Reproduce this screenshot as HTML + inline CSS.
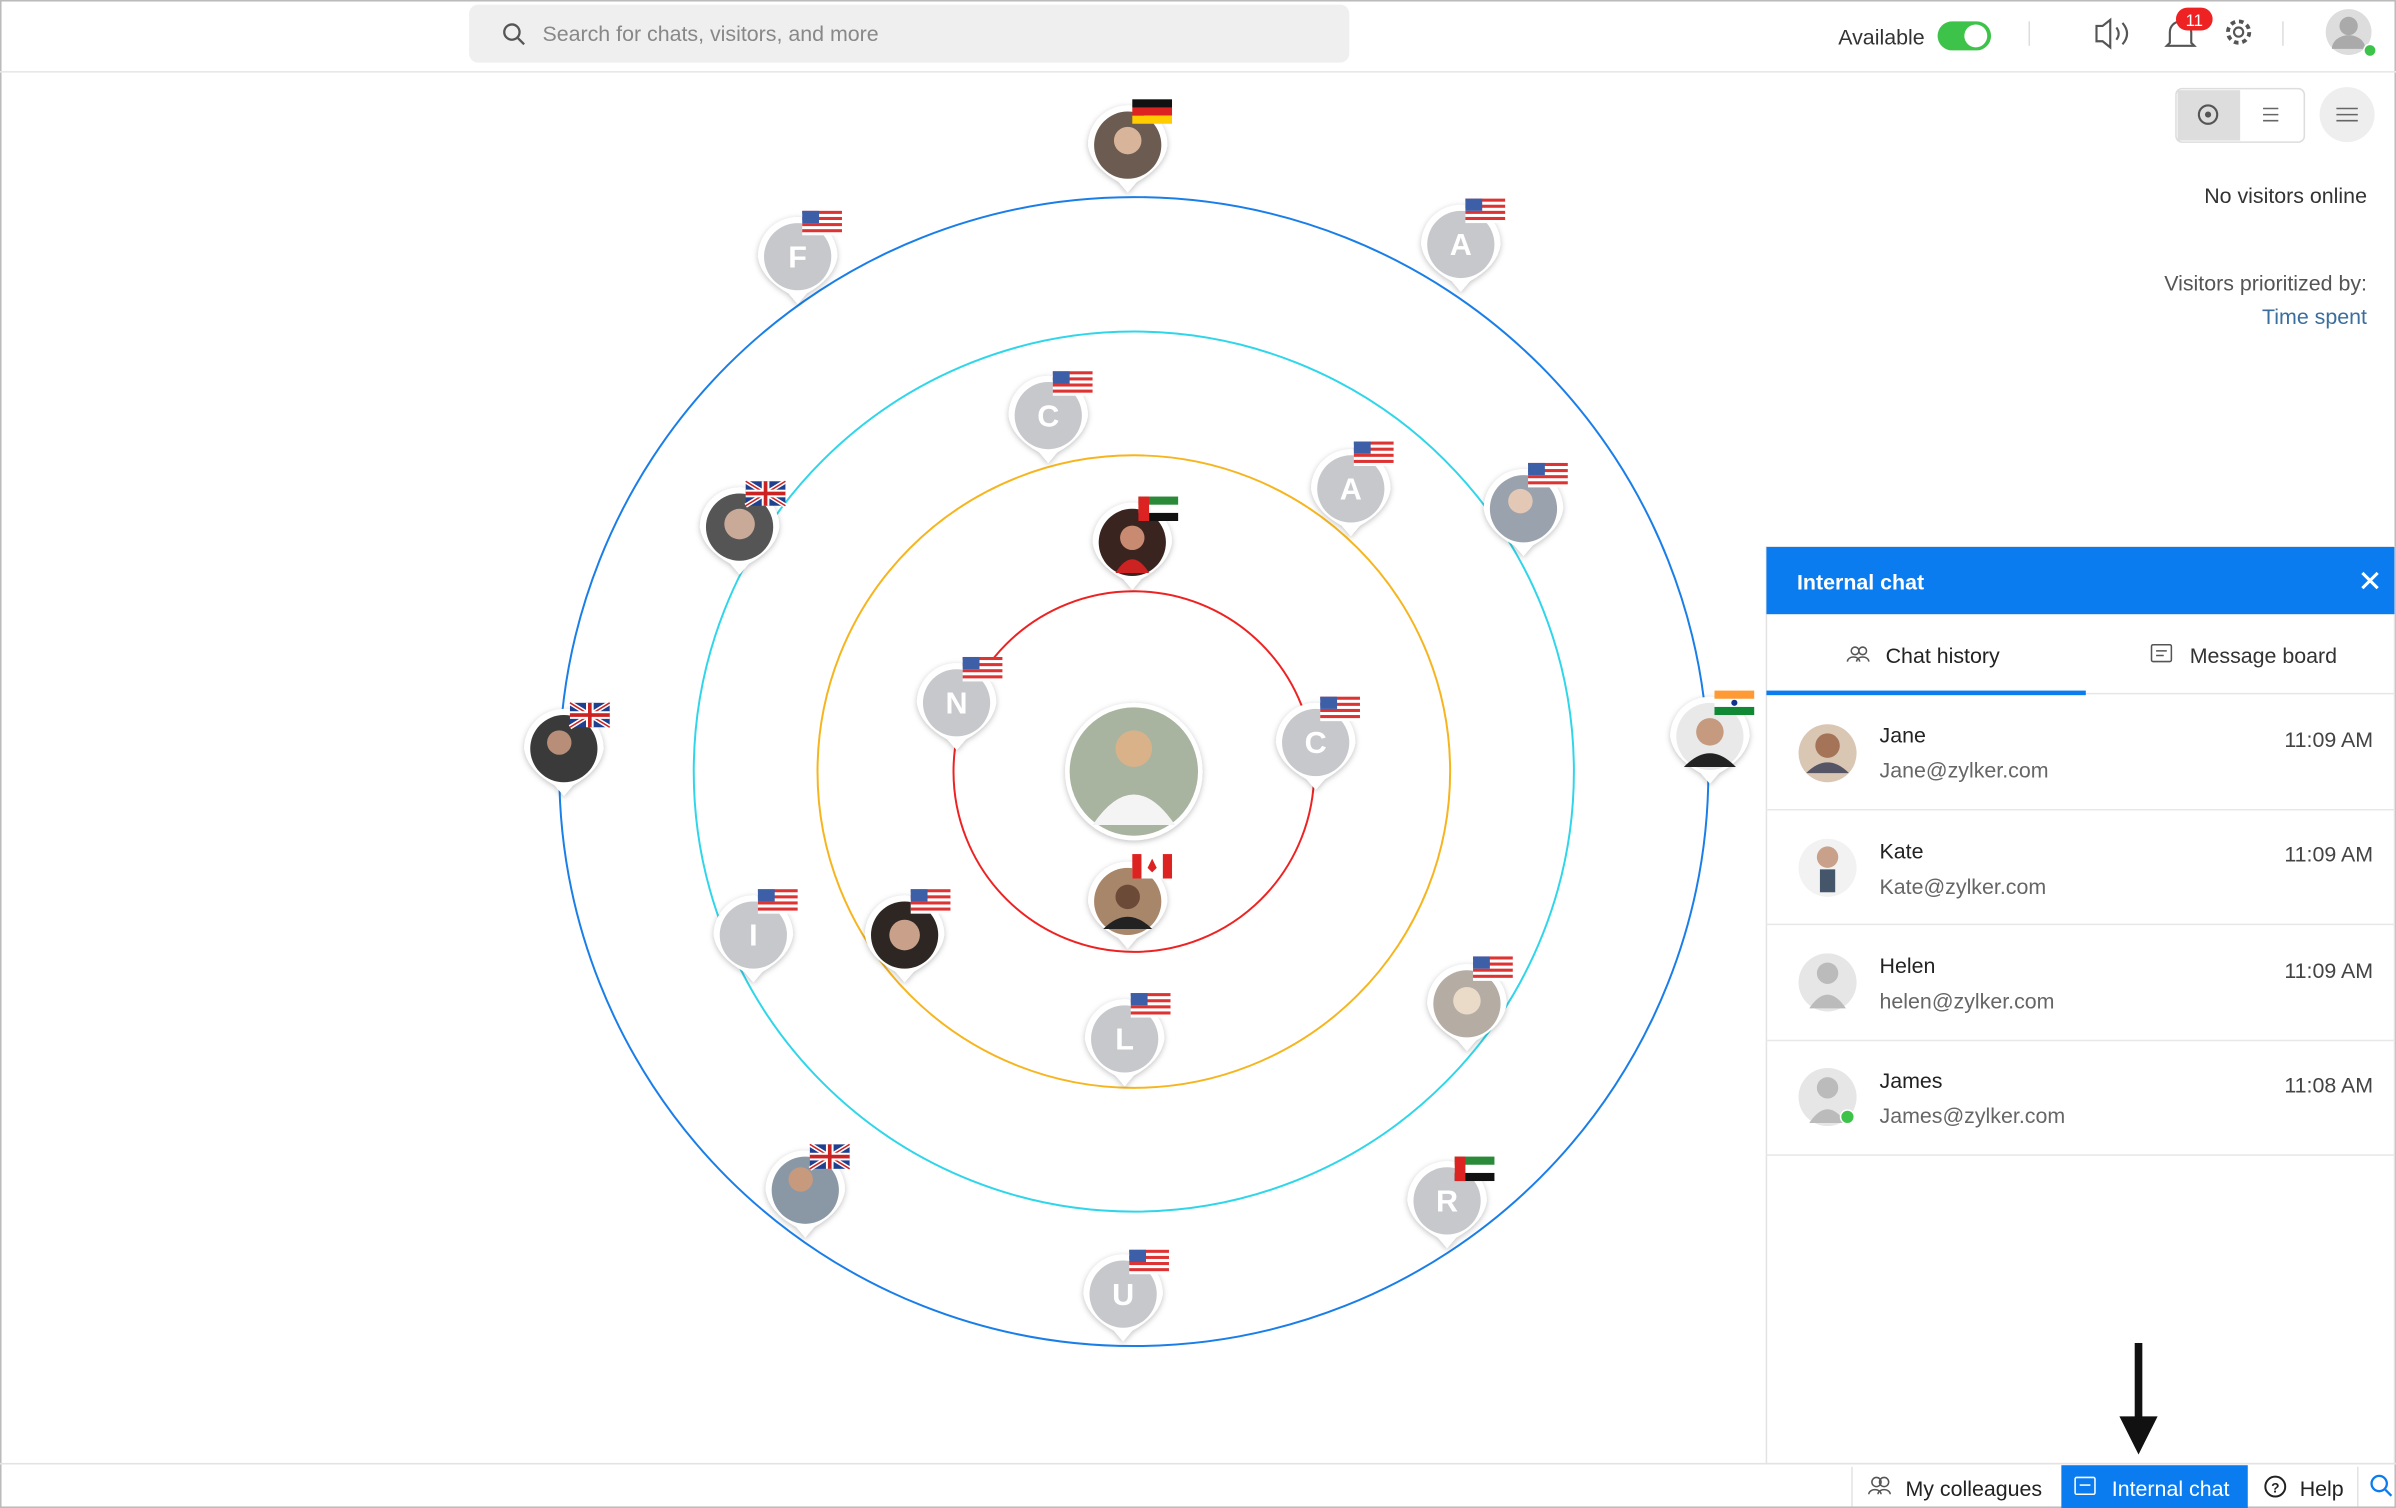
<!DOCTYPE html>
<html><head><meta charset="utf-8"><style>
html,body{margin:0;padding:0;background:#fff;}
svg{display:block;font-family:"Liberation Sans",sans-serif;}
</style></head><body>
<svg width="2396" height="1508" viewBox="0 0 1568 987" preserveAspectRatio="none" xmlns="http://www.w3.org/2000/svg">
<defs>
<filter id="sh" x="-50%" y="-50%" width="200%" height="200%"><feDropShadow dx="0" dy="1" stdDeviation="2" flood-color="#000" flood-opacity="0.25"/></filter>
<g id="mk"><path d="M-26,0 A26,26 0 1,1 26,0 Q24,14 6,24 L0,31 L-6,24 Q-24,14 -26,0Z" fill="#fff" filter="url(#sh)"/></g>
<g id="us"><rect x="-13" y="-8" width="26" height="16" fill="#fff"/><g fill="#d33"><rect x="-13" y="-8" width="26" height="2"/><rect x="-13" y="-4" width="26" height="2"/><rect x="-13" y="0" width="26" height="2"/><rect x="-13" y="4" width="26" height="2"/></g><rect x="-13" y="-8" width="11" height="8" fill="#3c5fa8"/></g>
<g id="uk"><rect x="-13" y="-8" width="26" height="16" fill="#1f3f8f"/><path d="M-13,-8 L13,8 M13,-8 L-13,8" stroke="#fff" stroke-width="3"/><path d="M-13,-8 L13,8 M13,-8 L-13,8" stroke="#c22" stroke-width="1"/><rect x="-13" y="-2.5" width="26" height="5" fill="#fff"/><rect x="-2.5" y="-8" width="5" height="16" fill="#fff"/><rect x="-13" y="-1.2" width="26" height="2.4" fill="#c22"/><rect x="-1.2" y="-8" width="2.4" height="16" fill="#c22"/></g>
<g id="de"><rect x="-13" y="-8" width="26" height="5.4" fill="#111"/><rect x="-13" y="-2.6" width="26" height="5.3" fill="#d22"/><rect x="-13" y="2.7" width="26" height="5.3" fill="#fc0"/></g>
<g id="ae"><rect x="-13" y="-8" width="26" height="5.4" fill="#2a8a3a"/><rect x="-13" y="-2.6" width="26" height="5.3" fill="#fff"/><rect x="-13" y="2.7" width="26" height="5.3" fill="#111"/><rect x="-13" y="-8" width="7" height="16" fill="#d22"/></g>
<g id="in"><rect x="-13" y="-8" width="26" height="5.4" fill="#f93"/><rect x="-13" y="-2.6" width="26" height="5.3" fill="#fff"/><rect x="-13" y="2.7" width="26" height="5.3" fill="#183"/><circle r="2" fill="#138"/></g>
<g id="ca"><rect x="-13" y="-8" width="26" height="16" fill="#fff"/><rect x="-13" y="-8" width="6" height="16" fill="#d22"/><rect x="7" y="-8" width="6" height="16" fill="#d22"/><path d="M0,-5 L3,1 L0,4 L-3,1Z" fill="#d22"/></g>
</defs>
<rect width="1568" height="987" fill="#fff"/>
<rect x="0.5" y="0.5" width="1567" height="986" fill="none" stroke="#bbb"/>
<!-- top bar -->
<line x1="0" y1="47" x2="1568" y2="47" stroke="#e8e8e8"/>
<rect x="307" y="3" width="576" height="38" rx="6" fill="#efefef"/>
<circle cx="335" cy="21" r="5" fill="none" stroke="#555" stroke-width="1.5"/><line x1="339" y1="25" x2="343" y2="29" stroke="#555" stroke-width="1.5"/>
<text x="355" y="27" font-size="14" fill="#888">Search for chats, visitors, and more</text>
<text x="1203" y="29" font-size="14" fill="#333">Available</text>
<rect x="1268" y="14" width="35" height="19" rx="9.5" fill="#3ec34a"/><circle cx="1293" cy="23.5" r="7.5" fill="#fff"/>
<line x1="1328" y1="14" x2="1328" y2="30" stroke="#ddd"/>
<path d="M1372,17 h4 l5,-4 v18 l-5,-4 h-4z" fill="none" stroke="#555" stroke-width="1.4"/>
<path d="M1385,18 q3,4 0,8 M1389,15 q6,7 0,14" fill="none" stroke="#555" stroke-width="1.4"/>
<path d="M1420,28 v-7 a7,7 0 0 1 14,0 v7 l2,2 h-18z" fill="none" stroke="#555" stroke-width="1.4"/>
<rect x="1424" y="5" width="24" height="15" rx="7.5" fill="#e22"/><text x="1436" y="17" font-size="11" fill="#fff" text-anchor="middle">11</text>
<circle cx="1465" cy="21" r="7" fill="none" stroke="#555" stroke-width="2.5" stroke-dasharray="3 2.5"/><circle cx="1465" cy="21" r="3" fill="none" stroke="#555" stroke-width="1.4"/>
<line x1="1494" y1="14" x2="1494" y2="30" stroke="#ddd"/>
<circle cx="1537" cy="21" r="15" fill="#ddd"/><circle cx="1537" cy="17" r="6" fill="#aaa"/><path d="M1526,32 a11,9 0 0 1 22,0z" fill="#aaa"/><circle cx="1551" cy="33" r="4" fill="#3ec34a" stroke="#fff"/>
<!-- right controls -->
<rect x="1424" y="58" width="84" height="35" rx="4" fill="#fff" stroke="#ddd"/><rect x="1425" y="59" width="41" height="33" fill="#ddd"/>
<circle cx="1445" cy="75" r="6" fill="none" stroke="#555" stroke-width="1.4"/><circle cx="1445" cy="75" r="2" fill="#555"/>
<path d="M1481,71h10M1481,75h10M1481,79h10" stroke="#666"/>
<circle cx="1536" cy="75" r="18" fill="#eee"/><path d="M1529,71h14M1529,75h14M1529,79h14" stroke="#666"/>
<text x="1549" y="133" font-size="14" fill="#333" text-anchor="end">No visitors online</text>
<text x="1549" y="190" font-size="14" fill="#555" text-anchor="end">Visitors prioritized by:</text>
<text x="1549" y="212" font-size="14" fill="#3a6e9e" text-anchor="end">Time spent</text>
<!-- rings -->
<circle cx="742" cy="505" r="376" fill="none" stroke="#1a7ee8" stroke-width="1.3"/>
<circle cx="742" cy="505" r="288" fill="none" stroke="#2fd6ea" stroke-width="1.3"/>
<circle cx="742" cy="505" r="207" fill="none" stroke="#f6b51e" stroke-width="1.3"/>
<circle cx="742" cy="505" r="118" fill="none" stroke="#e22" stroke-width="1.3"/>
<!-- center -->
<circle cx="742" cy="505" r="45" fill="#fff" filter="url(#sh)"/>
<circle cx="742" cy="505" r="42" fill="#a8b4a0"/><circle cx="742" cy="490" r="12" fill="#d9b28a"/><path d="M715,540 q27,-40 54,0z" fill="#f4f4f4"/>
<!-- markers -->
<g>
<use href="#mk" x="738" y="95"/><circle cx="738" cy="95" r="22" fill="#6b5b50"/><circle cx="738" cy="92" r="9" fill="#d8b49a"/><use href="#de" x="754" y="73"/>
<use href="#mk" x="522" y="168"/><circle cx="522" cy="168" r="22" fill="#c6c8cc"/><text x="522" y="175" font-size="20" fill="#fff" text-anchor="middle" font-weight="bold">F</text><use href="#us" x="538" y="146"/>
<use href="#mk" x="956" y="160"/><circle cx="956" cy="160" r="22" fill="#c6c8cc"/><text x="956" y="167" font-size="20" fill="#fff" text-anchor="middle" font-weight="bold">A</text><use href="#us" x="972" y="138"/>
<use href="#mk" x="686" y="272"/><circle cx="686" cy="272" r="22" fill="#c6c8cc"/><text x="686" y="279" font-size="20" fill="#fff" text-anchor="middle" font-weight="bold">C</text><use href="#us" x="702" y="251"/>
<use href="#mk" x="484" y="345"/><circle cx="484" cy="345" r="22" fill="#555"/><circle cx="484" cy="343" r="10" fill="#c9aa98"/><use href="#uk" x="501" y="323"/>
<use href="#mk" x="884" y="320"/><circle cx="884" cy="320" r="22" fill="#c6c8cc"/><text x="884" y="327" font-size="20" fill="#fff" text-anchor="middle" font-weight="bold">A</text><use href="#us" x="899" y="297"/>
<use href="#mk" x="997" y="333"/><circle cx="997" cy="333" r="22" fill="#9aa3ad"/><circle cx="995" cy="328" r="8" fill="#e3c8b6"/><use href="#us" x="1013" y="311"/>
<use href="#mk" x="741" y="355"/><circle cx="741" cy="355" r="22" fill="#3a2420"/><circle cx="741" cy="352" r="8" fill="#c88a70"/><path d="M730,375 q11,-18 22,0z" fill="#c22"/><use href="#ae" x="758" y="333"/>
<use href="#mk" x="626" y="460"/><circle cx="626" cy="460" r="22" fill="#c6c8cc"/><text x="626" y="467" font-size="20" fill="#fff" text-anchor="middle" font-weight="bold">N</text><use href="#us" x="643" y="438"/>
<use href="#mk" x="861" y="486"/><circle cx="861" cy="486" r="22" fill="#c6c8cc"/><text x="861" y="493" font-size="20" fill="#fff" text-anchor="middle" font-weight="bold">C</text><use href="#us" x="877" y="464"/>
<use href="#mk" x="369" y="490"/><circle cx="369" cy="490" r="22" fill="#3a3a3a"/><circle cx="366" cy="486" r="8" fill="#b88e78"/><use href="#uk" x="386" y="468"/>
<use href="#mk" x="1119" y="482"/><circle cx="1119" cy="482" r="22" fill="#e9e9e9"/><circle cx="1119" cy="479" r="9" fill="#c59a7e"/><path d="M1102,502 q17,-18 34,0z" fill="#222"/><use href="#in" x="1135" y="460"/>
<use href="#mk" x="738" y="590"/><circle cx="738" cy="590" r="22" fill="#a8866a"/><circle cx="738" cy="587" r="8" fill="#6b4a38"/><path d="M722,608 q16,-16 32,0z" fill="#222"/><use href="#ca" x="754" y="567"/>
<use href="#mk" x="493" y="612"/><circle cx="493" cy="612" r="22" fill="#c6c8cc"/><text x="493" y="619" font-size="20" fill="#fff" text-anchor="middle" font-weight="bold">I</text><use href="#us" x="509" y="590"/>
<use href="#mk" x="592" y="612"/><circle cx="592" cy="612" r="22" fill="#2e2622"/><circle cx="592" cy="612" r="10" fill="#c9a08a"/><use href="#us" x="609" y="590"/>
<use href="#mk" x="736" y="680"/><circle cx="736" cy="680" r="22" fill="#c6c8cc"/><text x="736" y="687" font-size="20" fill="#fff" text-anchor="middle" font-weight="bold">L</text><use href="#us" x="753" y="658"/>
<use href="#mk" x="960" y="657"/><circle cx="960" cy="657" r="22" fill="#b5aca4"/><circle cx="960" cy="655" r="9" fill="#eadbc8"/><use href="#us" x="977" y="634"/>
<use href="#mk" x="527" y="779"/><circle cx="527" cy="779" r="22" fill="#8a98a6"/><circle cx="524" cy="772" r="8" fill="#c79a7e"/><use href="#uk" x="543" y="757"/>
<use href="#mk" x="947" y="786"/><circle cx="947" cy="786" r="22" fill="#c6c8cc"/><text x="947" y="793" font-size="20" fill="#fff" text-anchor="middle" font-weight="bold">R</text><use href="#ae" x="965" y="765"/>
<use href="#mk" x="735" y="847"/><circle cx="735" cy="847" r="22" fill="#c6c8cc"/><text x="735" y="854" font-size="20" fill="#fff" text-anchor="middle" font-weight="bold">U</text><use href="#us" x="752" y="826"/>
</g>
<!-- internal chat panel -->
<rect x="1156" y="358" width="411" height="600" fill="#fff" stroke="#e3e3e3"/>
<rect x="1156" y="358" width="411" height="44" fill="#0a7cf0"/>
<text x="1176" y="386" font-size="14" fill="#fff" font-weight="bold">Internal chat</text>
<path d="M1546,375 l10,10 M1556,375 l-10,10" stroke="#fff" stroke-width="2"/>
<line x1="1156" y1="454" x2="1567" y2="454" stroke="#e6e6e6"/>
<rect x="1156" y="452" width="209" height="3" fill="#0a7cf0"/>
<circle cx="1214" cy="426" r="2.5" fill="none" stroke="#555"/><circle cx="1219" cy="426" r="2.5" fill="none" stroke="#555"/><path d="M1209,433 a4,3 0 0 1 8,0 M1215,433 a4,3 0 0 1 8,0" fill="none" stroke="#555"/>
<text x="1234" y="434" font-size="14" fill="#222">Chat history</text>
<rect x="1408" y="422" width="13" height="11" rx="1" fill="none" stroke="#555"/><path d="M1411,426h7M1411,429h5" stroke="#555"/>
<text x="1433" y="434" font-size="14" fill="#333">Message board</text>
<g font-size="14">
<circle cx="1196" cy="493" r="19" fill="#d9c6b3"/><circle cx="1196" cy="488" r="8" fill="#a57358"/><path d="M1182,506 q14,-14 28,0z" fill="#556"/>
<text x="1230" y="486" fill="#222">Jane</text><text x="1230" y="509" fill="#666">Jane@zylker.com</text><text x="1553" y="489" fill="#444" text-anchor="end">11:09 AM</text>
<line x1="1156" y1="530" x2="1567" y2="530" stroke="#e8e8e8"/>
<circle cx="1196" cy="568" r="19" fill="#f2f2f2"/><circle cx="1196" cy="561" r="7" fill="#c9a08a"/><rect x="1191" y="569" width="10" height="15" fill="#46566a"/>
<text x="1230" y="562" fill="#222">Kate</text><text x="1230" y="585" fill="#666">Kate@zylker.com</text><text x="1553" y="564" fill="#444" text-anchor="end">11:09 AM</text>
<line x1="1156" y1="605" x2="1567" y2="605" stroke="#e8e8e8"/>
<circle cx="1196" cy="643" r="19" fill="#e6e6e6"/><circle cx="1196" cy="637" r="7" fill="#bbb"/><path d="M1184,660 q12,-18 24,0z" fill="#bbb"/>
<text x="1230" y="637" fill="#222">Helen</text><text x="1230" y="660" fill="#666">helen@zylker.com</text><text x="1553" y="640" fill="#444" text-anchor="end">11:09 AM</text>
<line x1="1156" y1="681" x2="1567" y2="681" stroke="#e8e8e8"/>
<circle cx="1196" cy="718" r="19" fill="#e6e6e6"/><circle cx="1196" cy="712" r="7" fill="#bbb"/><path d="M1184,735 q12,-18 24,0z" fill="#bbb"/><circle cx="1209" cy="731" r="4.5" fill="#3ec34a" stroke="#fff"/>
<text x="1230" y="712" fill="#222">James</text><text x="1230" y="735" fill="#666">James@zylker.com</text><text x="1553" y="715" fill="#444" text-anchor="end">11:08 AM</text>
<line x1="1156" y1="756" x2="1567" y2="756" stroke="#e8e8e8"/>
</g>
<!-- arrow -->
<rect x="1397" y="879" width="5" height="50" fill="#111"/><path d="M1387,927 L1412,927 L1399.5,952Z" fill="#111"/>
<!-- bottom bar -->
<line x1="0" y1="958" x2="1568" y2="958" stroke="#e3e3e3"/>
<line x1="1212" y1="960" x2="1212" y2="986" stroke="#e3e3e3"/>
<circle cx="1228" cy="970" r="3" fill="none" stroke="#555"/><circle cx="1233" cy="970" r="3" fill="none" stroke="#555"/><path d="M1223,978 a4,3 0 0 1 8,0 M1229,978 a4,3 0 0 1 8,0" fill="none" stroke="#555"/>
<text x="1247" y="979" font-size="14" fill="#222">My colleagues</text>
<rect x="1349" y="959" width="122" height="28" fill="#0a7cf0"/>
<rect x="1358" y="967" width="13" height="11" rx="1" fill="none" stroke="#fff"/><path d="M1361,972h7" stroke="#fff"/>
<text x="1382" y="979" font-size="14" fill="#fff">Internal chat</text>
<circle cx="1489" cy="973" r="6.5" fill="none" stroke="#222" stroke-width="1.3"/><text x="1489" y="977" font-size="9" fill="#222" text-anchor="middle" font-weight="bold">?</text>
<text x="1505" y="979" font-size="14" fill="#222">Help</text>
<line x1="1543" y1="960" x2="1543" y2="986" stroke="#e3e3e3"/>
<circle cx="1557" cy="971" r="5" fill="none" stroke="#0a7cf0" stroke-width="1.5"/><line x1="1561" y1="975" x2="1565" y2="979" stroke="#0a7cf0" stroke-width="1.5"/>
</svg>
</body></html>
